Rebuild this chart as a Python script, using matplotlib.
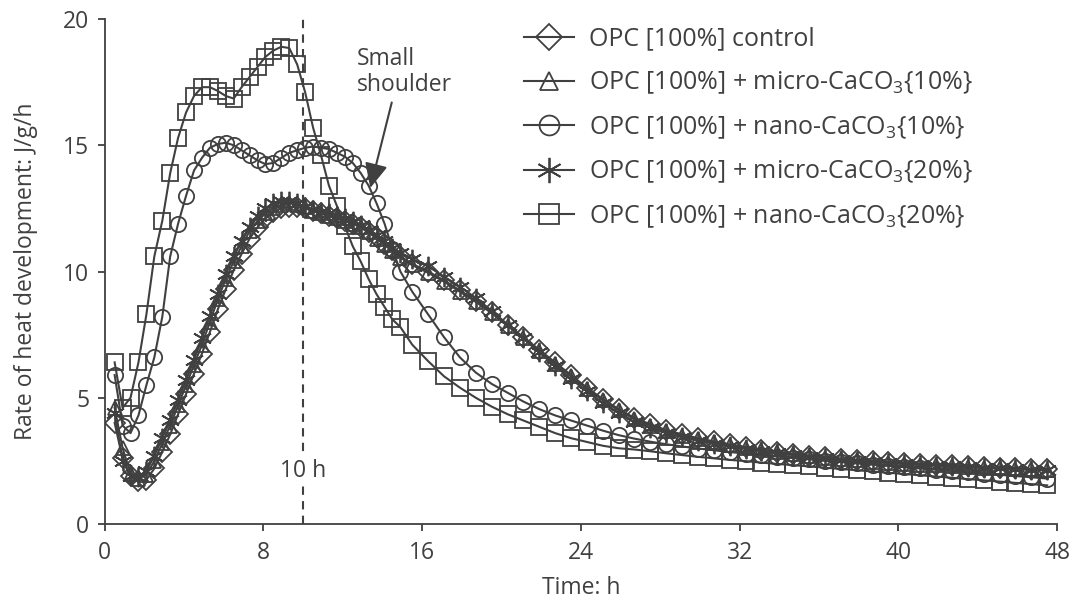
import matplotlib
matplotlib.use('Agg')
import matplotlib.pyplot as plt

plt.rcParams['font.family'] = ['Open Sans', 'DejaVu Sans']
plt.rcParams['mathtext.fontset'] = 'custom'
plt.rcParams['mathtext.rm'] = 'Open Sans'
plt.rcParams['mathtext.it'] = 'Open Sans'

GREY = '#404040'

# time grid of the recorded points (h)
time_h = [0.5, 0.9, 1.3, 1.7, 2.1, 2.5, 2.9, 3.3, 3.7, 4.1, 4.5, 4.9, 5.3, 5.7,
          6.1, 6.5, 6.9, 7.3, 7.7, 8.1, 8.5, 8.9, 9.3, 9.7, 10.1, 10.5, 10.9,
          11.3, 11.7, 12.1, 12.5, 12.9, 13.3, 13.7, 14.1, 14.5, 14.9,
          15.5, 16.3, 17.1, 17.9, 18.7, 19.5, 20.3, 21.1, 21.9, 22.7, 23.5,
          24.3, 25.1, 25.9, 26.7, 27.5, 28.3, 29.1, 29.9, 30.7, 31.5, 32.3,
          33.1, 33.9, 34.7, 35.5, 36.3, 37.1, 37.9, 38.7, 39.5, 40.3, 41.1,
          41.9, 42.7, 43.5, 44.3, 45.1, 45.9, 46.7, 47.5]

control = [4.0, 2.6, 1.9, 1.7, 1.75, 2.2, 2.85, 3.55, 4.35, 5.15, 5.95, 6.75, 7.6, 8.5,
           9.3, 10.05, 10.7, 11.3, 11.75, 12.1, 12.35, 12.5, 12.55, 12.55, 12.5, 12.4, 12.3,
           12.2, 12.1, 12.0, 11.9, 11.75, 11.55, 11.35, 11.1, 10.85, 10.6,
           10.3, 10.0, 9.65, 9.25, 8.85, 8.4, 7.9, 7.4, 6.9, 6.4, 5.9,
           5.4, 4.95, 4.55, 4.2, 3.95, 3.72, 3.55, 3.4, 3.27, 3.15, 3.05,
           2.95, 2.86, 2.78, 2.71, 2.65, 2.59, 2.54, 2.5, 2.46, 2.42, 2.38,
           2.35, 2.32, 2.29, 2.26, 2.23, 2.21, 2.19, 2.17]

micro_10 = [4.6, 3.0, 2.0, 1.8, 1.95, 2.5, 3.2, 3.9, 4.7, 5.5, 6.3, 7.1, 8.0, 8.9,
            9.7, 10.4, 11.0, 11.6, 12.0, 12.3, 12.5, 12.65, 12.7, 12.65, 12.55, 12.4, 12.3,
            12.2, 12.1, 12.0, 11.9, 11.75, 11.55, 11.3, 11.05, 10.8, 10.55,
            10.25, 9.95, 9.6, 9.2, 8.8, 8.35, 7.85, 7.35, 6.85, 6.35, 5.85,
            5.35, 4.9, 4.5, 4.15, 3.9, 3.68, 3.5, 3.36, 3.23, 3.12, 3.02,
            2.92, 2.84, 2.76, 2.69, 2.63, 2.57, 2.52, 2.47, 2.43, 2.39, 2.35,
            2.32, 2.29, 2.26, 2.23, 2.2, 2.18, 2.16, 2.14]

nano_10 = [5.9, 3.9, 3.6, 4.3, 5.5, 6.6, 8.2, 10.6, 11.9, 13.0, 14.0, 14.5, 14.9, 15.05,
           15.1, 15.0, 14.8, 14.6, 14.4, 14.25, 14.3, 14.5, 14.7, 14.8, 14.9, 14.95, 14.9,
           14.85, 14.7, 14.55, 14.3, 13.9, 13.4, 12.7, 11.9, 10.9, 10.0,
           9.2, 8.3, 7.4, 6.6, 6.0, 5.55, 5.2, 4.85, 4.55, 4.3, 4.1,
           3.9, 3.7, 3.52, 3.38, 3.26, 3.16, 3.07, 2.99, 2.92, 2.85, 2.79,
           2.73, 2.67, 2.61, 2.56, 2.5, 2.45, 2.4, 2.35, 2.3, 2.25, 2.2,
           2.15, 2.1, 2.05, 2.0, 1.95, 1.9, 1.85, 1.8]

micro_20 = [4.4, 2.5, 1.9, 1.85, 2.1, 2.7, 3.4, 4.1, 4.9, 5.7, 6.5, 7.35, 8.25, 9.1,
            9.9, 10.6, 11.2, 11.75, 12.2, 12.5, 12.7, 12.8, 12.8, 12.7, 12.55, 12.45, 12.35,
            12.3, 12.2, 12.1, 12.0, 11.85, 11.65, 11.45, 11.2, 10.95, 10.75,
            10.5, 10.2, 9.8, 9.4, 8.95, 8.45, 7.9, 7.35, 6.8, 6.25, 5.75,
            5.25, 4.8, 4.4, 4.05, 3.8, 3.6, 3.43, 3.3, 3.18, 3.07, 2.97,
            2.88, 2.8, 2.73, 2.66, 2.6, 2.55, 2.5, 2.46, 2.42, 2.38, 2.34,
            2.31, 2.28, 2.25, 2.22, 2.2, 2.17, 2.15, 2.13]

nano_20 = [6.4, 4.6, 5.0, 6.4, 8.3, 10.6, 12.0, 13.9, 15.3, 16.3, 16.95, 17.3, 17.3, 17.15,
           16.95, 16.85, 17.3, 17.7, 18.1, 18.5, 18.75, 18.9, 18.85, 18.2, 17.1, 15.7, 14.6,
           13.4, 12.6, 11.8, 11.0, 10.4, 9.7, 9.1, 8.6, 8.1, 7.8,
           7.1, 6.45, 5.85, 5.4, 5.0, 4.65, 4.35, 4.1, 3.85, 3.6, 3.4,
           3.25, 3.1, 3.0, 2.95, 2.88, 2.8, 2.73, 2.66, 2.6, 2.54, 2.49,
           2.43, 2.38, 2.33, 2.28, 2.23, 2.18, 2.13, 2.08, 2.03, 1.98, 1.93,
           1.88, 1.83, 1.78, 1.73, 1.68, 1.63, 1.58, 1.53]

series = [
    (control, 'D', 10, 'OPC [100%] control'),
    (micro_10, '^', 10, 'OPC [100%] + micro-CaCO$_3${10%}'),
    (nano_10, 'o', 11, 'OPC [100%] + nano-CaCO$_3${10%}'),
    (micro_20, (6, 2, 0), 14, 'OPC [100%] + micro-CaCO$_3${20%}'),
    (nano_20, 's', 11, 'OPC [100%] + nano-CaCO$_3${20%}'),
]

fig = plt.figure(figsize=(10.73, 6.03), dpi=100)
ax = fig.add_axes([0.0976, 0.131, 0.8876, 0.8375])

for vals, mk, ms, lab in series:
    ax.plot(time_h, vals, color=GREY, lw=1.5, marker=mk, ms=ms,
            mfc='none', mec=GREY, mew=1.3, label=lab)

# 10 h marker line
ax.axvline(10, color=GREY, lw=1.5, ls=(0, (4, 3)), zorder=1)
ax.text(10, 2.1, '10 h', ha='center', va='center', fontsize=16.5, color=GREY,
        bbox=dict(facecolor='white', edgecolor='none', pad=2))

ax.annotate('', xy=(13.35, 13.2), xytext=(14.5, 16.8),
            arrowprops=dict(arrowstyle='-|>,head_length=1.5,head_width=0.7',
                            color=GREY, lw=1.5))
ax.text(12.7, 17.9, 'Small\nshoulder', ha='left', va='center', fontsize=16.5,
        color=GREY, linespacing=1.1)

ax.set_xlim(0, 48)
ax.set_ylim(0, 20)
ax.set_xticks([0, 8, 16, 24, 32, 40, 48])
ax.set_yticks([0, 5, 10, 15, 20])
for s in ['top', 'right']:
    ax.spines[s].set_visible(False)
for s in ['left', 'bottom']:
    ax.spines[s].set_linewidth(1.3)
    ax.spines[s].set_color(GREY)
ax.tick_params(direction='out', length=5, width=1.3, colors=GREY,
               labelsize=16.5)
ax.tick_params(axis='x', pad=7)
ax.tick_params(axis='y', pad=6)
ax.set_xlabel('Time: h', fontsize=16.5, color=GREY, labelpad=8)
ax.set_ylabel('Rate of heat development: J/g/h', fontsize=16.5, color=GREY, labelpad=18)

leg = ax.legend(loc='upper left', bbox_to_anchor=(0.44, 0.985), frameon=False,
                fontsize=18, handlelength=2.0, handletextpad=0.6,
                labelspacing=0.72, borderpad=0, borderaxespad=0, markerscale=1.3)
for t in leg.get_texts():
    t.set_color(GREY)

fig.savefig('out.png', dpi=100)
